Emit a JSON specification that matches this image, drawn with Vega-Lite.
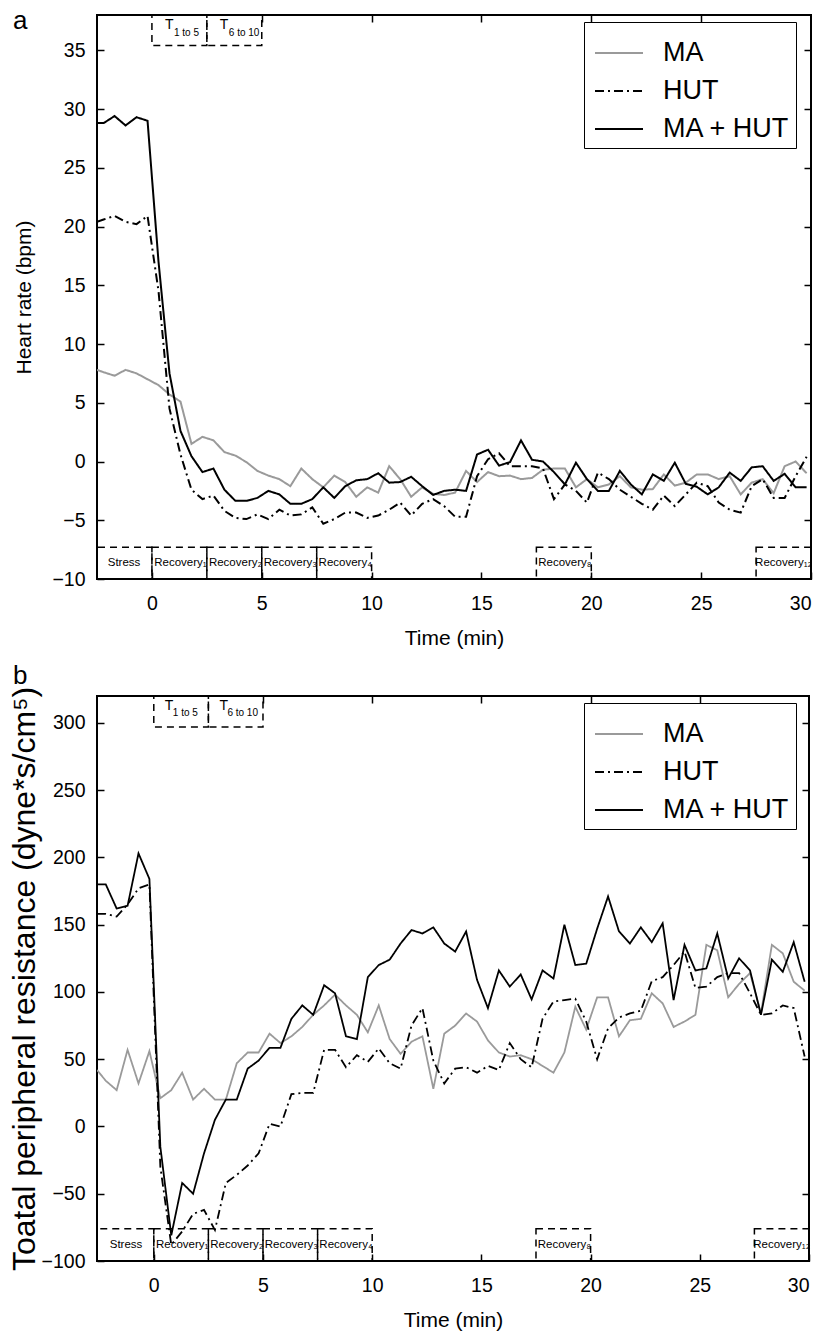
{
  "$schema": "https://vega.github.io/schema/vega-lite/v6.json",
  "background": "white",
  "padding": {"left": 7, "top": 7, "right": 5, "bottom": 2},
  "bounds": "flush",
  "spacing": 117,
  "config": {
    "font": "Liberation Sans",
    "view": {"stroke": "black", "strokeWidth": 2},
    "axis": {"grid": false, "domain": false, "tickColor": "black", "tickWidth": 1.5, "tickSize": -7, "labelColor": "black", "labelFontSize": 19.5, "titleFontSize": 21, "titleFontWeight": "normal", "titleColor": "black"},
    "axisX": {"labelPadding": 22, "titlePadding": 15},
    "axisY": {"labelPadding": 19, "titlePadding": 10},
    "legend": {"strokeColor": "black", "fillColor": "white", "labelColor": "black"},
    "title": {"fontSize": 26, "fontWeight": "normal", "anchor": "start", "frame": "group", "color": "black"}
  },
  "datasets": {
    "hr": [
      {"t": -2.5, "MA": 7.8, "HUT": 20.4, "MA + HUT": 28.8},
      {"t": -2.2, "MA": 7.6, "HUT": 20.6, "MA + HUT": 28.8},
      {"t": -1.7, "MA": 7.3, "HUT": 20.9, "MA + HUT": 29.4},
      {"t": -1.2, "MA": 7.8, "HUT": 20.4, "MA + HUT": 28.6},
      {"t": -0.7, "MA": 7.5, "HUT": 20.2, "MA + HUT": 29.3},
      {"t": -0.2, "MA": 7.0, "HUT": 20.9, "MA + HUT": 29.0},
      {"t": 0.3, "MA": 6.5, "HUT": 14.5, "MA + HUT": 17.0},
      {"t": 0.8, "MA": 5.7, "HUT": 4.5, "MA + HUT": 7.5},
      {"t": 1.3, "MA": 5.1, "HUT": 0.6, "MA + HUT": 2.6},
      {"t": 1.8, "MA": 1.5, "HUT": -2.4, "MA + HUT": 0.45},
      {"t": 2.3, "MA": 2.1, "HUT": -3.2, "MA + HUT": -0.9},
      {"t": 2.8, "MA": 1.8, "HUT": -2.9, "MA + HUT": -0.6},
      {"t": 3.3, "MA": 0.8, "HUT": -4.2, "MA + HUT": -2.4},
      {"t": 3.8, "MA": 0.5, "HUT": -4.8, "MA + HUT": -3.35},
      {"t": 4.3, "MA": -0.05, "HUT": -4.9, "MA + HUT": -3.35},
      {"t": 4.8, "MA": -0.8, "HUT": -4.5, "MA + HUT": -3.1},
      {"t": 5.3, "MA": -1.2, "HUT": -4.9, "MA + HUT": -2.5},
      {"t": 5.8, "MA": -1.5, "HUT": -4.1, "MA + HUT": -2.8},
      {"t": 6.3, "MA": -2.1, "HUT": -4.6, "MA + HUT": -3.6},
      {"t": 6.8, "MA": -0.6, "HUT": -4.5, "MA + HUT": -3.6},
      {"t": 7.3, "MA": -1.5, "HUT": -3.9, "MA + HUT": -3.2},
      {"t": 7.8, "MA": -2.2, "HUT": -5.3, "MA + HUT": -2.2},
      {"t": 8.3, "MA": -1.2, "HUT": -4.9, "MA + HUT": -3.1},
      {"t": 8.8, "MA": -1.75, "HUT": -4.35, "MA + HUT": -2.1},
      {"t": 9.3, "MA": -3.0, "HUT": -4.35, "MA + HUT": -1.6},
      {"t": 9.8, "MA": -2.2, "HUT": -4.8, "MA + HUT": -1.5},
      {"t": 10.3, "MA": -2.65, "HUT": -4.6, "MA + HUT": -1.0},
      {"t": 10.8, "MA": -0.4, "HUT": -4.1, "MA + HUT": -1.8},
      {"t": 11.3, "MA": -1.5, "HUT": -3.5, "MA + HUT": -1.75},
      {"t": 11.8, "MA": -3.0, "HUT": -4.6, "MA + HUT": -1.3},
      {"t": 12.3, "MA": -2.2, "HUT": -3.6, "MA + HUT": -2.1},
      {"t": 12.8, "MA": -2.75, "HUT": -3.2, "MA + HUT": -2.85},
      {"t": 13.3, "MA": -2.85, "HUT": -3.8, "MA + HUT": -2.5},
      {"t": 13.8, "MA": -2.65, "HUT": -4.7, "MA + HUT": -2.4},
      {"t": 14.3, "MA": -0.8, "HUT": -4.7, "MA + HUT": -2.5},
      {"t": 14.8, "MA": -1.75, "HUT": -1.25, "MA + HUT": 0.6},
      {"t": 15.3, "MA": -0.9, "HUT": 0.2, "MA + HUT": 1.0},
      {"t": 15.8, "MA": -1.25, "HUT": 0.7, "MA + HUT": -0.35},
      {"t": 16.3, "MA": -1.2, "HUT": -0.4, "MA + HUT": -0.05},
      {"t": 16.8, "MA": -1.5, "HUT": -0.4, "MA + HUT": 1.8},
      {"t": 17.3, "MA": -1.4, "HUT": -0.4, "MA + HUT": 0.15},
      {"t": 17.8, "MA": -0.7, "HUT": -0.6, "MA + HUT": 0.0},
      {"t": 18.3, "MA": -0.6, "HUT": -3.2, "MA + HUT": -0.9},
      {"t": 18.8, "MA": -0.6, "HUT": -1.95, "MA + HUT": -1.95},
      {"t": 19.3, "MA": -2.2, "HUT": -2.5, "MA + HUT": -0.1},
      {"t": 19.8, "MA": -1.5, "HUT": -3.5, "MA + HUT": -1.5},
      {"t": 20.3, "MA": -2.2, "HUT": -0.95, "MA + HUT": -2.5},
      {"t": 20.8, "MA": -1.95, "HUT": -1.5, "MA + HUT": -2.5},
      {"t": 21.3, "MA": -1.25, "HUT": -2.4, "MA + HUT": -0.8},
      {"t": 21.8, "MA": -2.2, "HUT": -3.0, "MA + HUT": -1.95},
      {"t": 22.3, "MA": -2.4, "HUT": -3.6, "MA + HUT": -2.8},
      {"t": 22.8, "MA": -2.35, "HUT": -4.1, "MA + HUT": -1.1},
      {"t": 23.3, "MA": -1.1, "HUT": -2.9, "MA + HUT": -1.65},
      {"t": 23.8, "MA": -2.05, "HUT": -3.8, "MA + HUT": -0.1},
      {"t": 24.3, "MA": -1.8, "HUT": -2.8, "MA + HUT": -1.9},
      {"t": 24.8, "MA": -1.1, "HUT": -1.8, "MA + HUT": -2.15},
      {"t": 25.3, "MA": -1.1, "HUT": -2.1, "MA + HUT": -2.8},
      {"t": 25.8, "MA": -1.5, "HUT": -3.5, "MA + HUT": -2.2},
      {"t": 26.3, "MA": -1.25, "HUT": -4.1, "MA + HUT": -0.95},
      {"t": 26.8, "MA": -2.8, "HUT": -4.35, "MA + HUT": -1.65},
      {"t": 27.3, "MA": -1.8, "HUT": -2.1, "MA + HUT": -0.5},
      {"t": 27.8, "MA": -1.5, "HUT": -1.5, "MA + HUT": -0.4},
      {"t": 28.3, "MA": -2.7, "HUT": -3.1, "MA + HUT": -1.65},
      {"t": 28.8, "MA": -0.4, "HUT": -3.1, "MA + HUT": -1.05},
      {"t": 29.3, "MA": 0.0, "HUT": -1.25, "MA + HUT": -2.2},
      {"t": 29.8, "MA": -1.0, "HUT": 0.4, "MA + HUT": -2.2}
    ],
    "tpr": [
      {"t": -2.6, "MA": 42, "HUT": 158, "MA + HUT": 180},
      {"t": -2.2, "MA": 34, "HUT": 158, "MA + HUT": 180},
      {"t": -1.7, "MA": 27, "HUT": 156, "MA + HUT": 162},
      {"t": -1.2, "MA": 57, "HUT": 165, "MA + HUT": 164},
      {"t": -0.7, "MA": 32, "HUT": 177, "MA + HUT": 203},
      {"t": -0.2, "MA": 56, "HUT": 180, "MA + HUT": 184},
      {"t": 0.3, "MA": 21, "HUT": -30, "MA + HUT": -15},
      {"t": 0.8, "MA": 27, "HUT": -88, "MA + HUT": -81},
      {"t": 1.3, "MA": 40, "HUT": -78, "MA + HUT": -42},
      {"t": 1.8, "MA": 20, "HUT": -65, "MA + HUT": -50},
      {"t": 2.3, "MA": 28, "HUT": -62, "MA + HUT": -20},
      {"t": 2.8, "MA": 20, "HUT": -77, "MA + HUT": 5},
      {"t": 3.3, "MA": 20, "HUT": -42, "MA + HUT": 20},
      {"t": 3.8, "MA": 47, "HUT": -36, "MA + HUT": 20},
      {"t": 4.3, "MA": 55, "HUT": -29, "MA + HUT": 43},
      {"t": 4.8, "MA": 55, "HUT": -20, "MA + HUT": 49},
      {"t": 5.3, "MA": 69, "HUT": 2, "MA + HUT": 58.5},
      {"t": 5.8, "MA": 62, "HUT": 0, "MA + HUT": 58.5},
      {"t": 6.3, "MA": 67, "HUT": 24, "MA + HUT": 80},
      {"t": 6.8, "MA": 74, "HUT": 25, "MA + HUT": 90},
      {"t": 7.3, "MA": 83, "HUT": 25, "MA + HUT": 83},
      {"t": 7.8, "MA": 90, "HUT": 57, "MA + HUT": 105},
      {"t": 8.3, "MA": 98, "HUT": 57, "MA + HUT": 99},
      {"t": 8.8, "MA": 90, "HUT": 44, "MA + HUT": 67},
      {"t": 9.3, "MA": 83, "HUT": 53, "MA + HUT": 65},
      {"t": 9.8, "MA": 70, "HUT": 48, "MA + HUT": 111},
      {"t": 10.3, "MA": 90, "HUT": 58, "MA + HUT": 120},
      {"t": 10.8, "MA": 65, "HUT": 47, "MA + HUT": 124},
      {"t": 11.3, "MA": 54, "HUT": 43, "MA + HUT": 136},
      {"t": 11.8, "MA": 63, "HUT": 75, "MA + HUT": 146},
      {"t": 12.3, "MA": 67, "HUT": 88, "MA + HUT": 143.5},
      {"t": 12.8, "MA": 28, "HUT": 49, "MA + HUT": 148},
      {"t": 13.3, "MA": 69, "HUT": 32, "MA + HUT": 136},
      {"t": 13.8, "MA": 75, "HUT": 43, "MA + HUT": 130},
      {"t": 14.3, "MA": 84, "HUT": 44, "MA + HUT": 145},
      {"t": 14.8, "MA": 78, "HUT": 40, "MA + HUT": 109},
      {"t": 15.3, "MA": 64, "HUT": 45, "MA + HUT": 88},
      {"t": 15.8, "MA": 55, "HUT": 42, "MA + HUT": 116},
      {"t": 16.3, "MA": 52, "HUT": 62, "MA + HUT": 104},
      {"t": 16.8, "MA": 53, "HUT": 50, "MA + HUT": 113},
      {"t": 17.3, "MA": 50, "HUT": 44, "MA + HUT": 94.5},
      {"t": 17.8, "MA": 45, "HUT": 80, "MA + HUT": 116},
      {"t": 18.3, "MA": 40, "HUT": 93, "MA + HUT": 110},
      {"t": 18.8, "MA": 55, "HUT": 94, "MA + HUT": 150},
      {"t": 19.3, "MA": 89, "HUT": 95, "MA + HUT": 120},
      {"t": 19.8, "MA": 72, "HUT": 78, "MA + HUT": 121},
      {"t": 20.3, "MA": 96, "HUT": 50, "MA + HUT": 147},
      {"t": 20.8, "MA": 96, "HUT": 73, "MA + HUT": 171},
      {"t": 21.3, "MA": 67, "HUT": 81, "MA + HUT": 145},
      {"t": 21.8, "MA": 79, "HUT": 84, "MA + HUT": 136},
      {"t": 22.3, "MA": 80, "HUT": 86, "MA + HUT": 148},
      {"t": 22.8, "MA": 99, "HUT": 108, "MA + HUT": 137},
      {"t": 23.3, "MA": 91.5, "HUT": 111, "MA + HUT": 151},
      {"t": 23.8, "MA": 74, "HUT": 120, "MA + HUT": 94},
      {"t": 24.3, "MA": 78, "HUT": 130, "MA + HUT": 135},
      {"t": 24.8, "MA": 83, "HUT": 103, "MA + HUT": 116},
      {"t": 25.3, "MA": 135, "HUT": 104, "MA + HUT": 117.5},
      {"t": 25.8, "MA": 131, "HUT": 111, "MA + HUT": 143.5},
      {"t": 26.3, "MA": 96, "HUT": 114, "MA + HUT": 110},
      {"t": 26.8, "MA": 106, "HUT": 114, "MA + HUT": 125},
      {"t": 27.3, "MA": 114, "HUT": 99, "MA + HUT": 116},
      {"t": 27.8, "MA": 84, "HUT": 83, "MA + HUT": 83},
      {"t": 28.3, "MA": 135, "HUT": 84, "MA + HUT": 124},
      {"t": 28.8, "MA": 128.7, "HUT": 90, "MA + HUT": 115},
      {"t": 29.3, "MA": 107.6, "HUT": 88, "MA + HUT": 137},
      {"t": 29.8, "MA": 101, "HUT": 52, "MA + HUT": 107.6}
    ],
    "periods": [
      {"label": "Stress", "x0": -3, "x1": 0, "xm": -1.27},
      {"label": "Recovery₁", "x0": 0, "x1": 2.5, "xm": 1.3},
      {"label": "Recovery₂", "x0": 2.5, "x1": 5, "xm": 3.8},
      {"label": "Recovery₃", "x0": 5, "x1": 7.5, "xm": 6.3},
      {"label": "Recovery₄", "x0": 7.5, "x1": 10, "xm": 8.8},
      {"label": "Recovery₈", "x0": 17.5, "x1": 20, "xm": 18.8},
      {"label": "Recovery₁₂", "x0": 27.5, "x1": 30, "xm": 28.75}
    ],
    "tboxes": [
      {"sub": "1 to 5", "x0": 0, "x1": 2.5},
      {"sub": "6 to 10", "x0": 2.5, "x1": 5}
    ]
  },
  "resolve": {"scale": {"x": "independent", "y": "independent", "color": "independent", "strokeDash": "independent"}},
  "vconcat": [
    {
      "width": 714,
      "height": 564,
      "title": {"text": "a", "dx": -84, "offset": -12, "dy": 29, "baseline": "alphabetic"},
      "resolve": {"axis": {"x": "independent", "y": "independent"}},
      "layer": [
        {
          "data": {"name": "periods"},
          "mark": {"type": "rect", "fillOpacity": 0, "stroke": "black", "strokeDash": [7, 5], "strokeWidth": 1.5, "clip": true},
          "encoding": {
            "x": {"field": "x0", "type": "quantitative", "axis": null},
            "x2": {"field": "x1"},
            "y": {"datum": -10, "type": "quantitative", "axis": null},
            "y2": {"datum": -7.3}
          }
        },
        {
          "data": {"name": "periods"},
          "mark": {"type": "text", "fontSize": 11.5, "baseline": "middle", "align": "center", "color": "black"},
          "encoding": {
            "x": {"field": "xm", "type": "quantitative", "axis": null},
            "y": {"datum": -8.65, "type": "quantitative", "axis": null},
            "text": {"field": "label"}
          }
        },
        {
          "data": {"name": "tboxes"},
          "mark": {"type": "rect", "fillOpacity": 0, "stroke": "black", "strokeDash": [7, 5], "strokeWidth": 1.5, "clip": true},
          "encoding": {
            "x": {"field": "x0", "type": "quantitative", "axis": null},
            "x2": {"field": "x1"},
            "y": {"datum": 35.4, "type": "quantitative", "axis": null},
            "y2": {"datum": 38}
          }
        },
        {
          "data": {"name": "tboxes"},
          "mark": {"type": "text", "fontSize": 14, "baseline": "alphabetic", "align": "left", "dx": 13, "dy": 14, "color": "black", "text": "T"},
          "encoding": {
            "x": {"field": "x0", "type": "quantitative", "axis": null},
            "y": {"datum": 38, "type": "quantitative", "axis": null}
          }
        },
        {
          "data": {"name": "tboxes"},
          "mark": {"type": "text", "fontSize": 10, "baseline": "alphabetic", "align": "left", "dx": 22, "dy": 21, "color": "black"},
          "encoding": {
            "x": {"field": "x0", "type": "quantitative", "axis": null},
            "y": {"datum": 38, "type": "quantitative", "axis": null},
            "text": {"field": "sub"}
          }
        },
        {
          "mark": {"type": "rule", "color": "#222222", "strokeDash": [9, 6], "strokeWidth": 1.2},
          "encoding": {
            "y": {"datum": 0, "type": "quantitative", "axis": {"orient": "right", "labels": false, "title": null, "values": [-5, 5, 10, 15, 20, 25, 30, 35]}}
          }
        },
        {
          "mark": {"type": "rule", "color": "black", "strokeWidth": 2},
          "encoding": {
            "x": {"datum": 0, "type": "quantitative", "axis": {"orient": "top", "labels": false, "title": null, "values": [5, 10, 15, 20, 25]}}
          }
        },
        {
          "data": {"name": "hr"},
          "transform": [{"fold": ["MA", "HUT", "MA + HUT"], "as": ["series", "value"]}],
          "mark": {"type": "line", "strokeWidth": 2, "clip": true},
          "encoding": {
            "x": {"field": "t", "type": "quantitative", "scale": {"domain": [-2.5, 30], "nice": false, "zero": false}, "axis": {"orient": "bottom", "values": [0, 5, 10, 15, 20, 25, 30], "title": "Time (min)"}},
            "y": {"field": "value", "type": "quantitative", "scale": {"domain": [-10, 38], "nice": false, "zero": false}, "axis": {"orient": "left", "values": [-10, -5, 0, 5, 10, 15, 20, 25, 30, 35], "title": "Heart rate (bpm)", "titlePadding": 17}},
            "color": {"field": "series", "type": "nominal", "scale": {"domain": ["MA", "HUT", "MA + HUT"], "range": ["#9a9a9a", "#000000", "#000000"]},
              "legend": {"title": null, "orient": "none", "legendX": 487, "legendY": 7, "symbolType": "stroke", "symbolSize": 2304, "symbolStrokeWidth": 2, "symbolOffset": 4, "labelFontSize": 27, "labelOffset": 19, "padding": 6, "rowPadding": 0}},
            "strokeDash": {"field": "series", "type": "nominal", "scale": {"domain": ["MA", "HUT", "MA + HUT"], "range": [[1, 0], [9, 4, 2, 4], [1, 0]]},
              "legend": {"title": null, "orient": "none", "legendX": 487, "legendY": 7, "symbolType": "stroke", "symbolSize": 2304, "symbolStrokeWidth": 2, "symbolOffset": 4, "labelFontSize": 27, "labelOffset": 19, "padding": 6, "rowPadding": 0}}
          }
        }
      ]
    },
    {
      "width": 712,
      "height": 565,
      "title": {"text": "b", "dx": -84, "offset": 2, "dy": 26, "baseline": "alphabetic"},
      "resolve": {"axis": {"x": "independent", "y": "independent"}},
      "layer": [
        {
          "data": {"name": "periods"},
          "mark": {"type": "rect", "fillOpacity": 0, "stroke": "black", "strokeDash": [7, 5], "strokeWidth": 1.5, "clip": true},
          "encoding": {
            "x": {"field": "x0", "type": "quantitative", "axis": null},
            "x2": {"field": "x1"},
            "y": {"datum": -100, "type": "quantitative", "axis": null},
            "y2": {"datum": -76}
          }
        },
        {
          "data": {"name": "periods"},
          "mark": {"type": "text", "fontSize": 11.5, "baseline": "middle", "align": "center", "color": "black"},
          "encoding": {
            "x": {"field": "xm", "type": "quantitative", "axis": null},
            "y": {"datum": -88, "type": "quantitative", "axis": null},
            "text": {"field": "label"}
          }
        },
        {
          "data": {"name": "tboxes"},
          "mark": {"type": "rect", "fillOpacity": 0, "stroke": "black", "strokeDash": [7, 5], "strokeWidth": 1.5, "clip": true},
          "encoding": {
            "x": {"field": "x0", "type": "quantitative", "axis": null},
            "x2": {"field": "x1"},
            "y": {"datum": 297, "type": "quantitative", "axis": null},
            "y2": {"datum": 320}
          }
        },
        {
          "data": {"name": "tboxes"},
          "mark": {"type": "text", "fontSize": 14, "baseline": "alphabetic", "align": "left", "dx": 11, "dy": 14, "color": "black", "text": "T"},
          "encoding": {
            "x": {"field": "x0", "type": "quantitative", "axis": null},
            "y": {"datum": 320, "type": "quantitative", "axis": null}
          }
        },
        {
          "data": {"name": "tboxes"},
          "mark": {"type": "text", "fontSize": 10, "baseline": "alphabetic", "align": "left", "dx": 19, "dy": 20, "color": "black"},
          "encoding": {
            "x": {"field": "x0", "type": "quantitative", "axis": null},
            "y": {"datum": 320, "type": "quantitative", "axis": null},
            "text": {"field": "sub"}
          }
        },
        {
          "mark": {"type": "rule", "color": "#222222", "strokeDash": [9, 6], "strokeWidth": 1.2},
          "encoding": {
            "y": {"datum": 0, "type": "quantitative", "axis": {"orient": "right", "labels": false, "title": null, "values": [-50, 50, 100, 150, 200, 250, 300]}}
          }
        },
        {
          "mark": {"type": "rule", "color": "black", "strokeWidth": 1.2},
          "encoding": {
            "x": {"datum": 0, "type": "quantitative", "axis": {"orient": "top", "labels": false, "title": null, "values": [5, 10, 15, 20, 25]}}
          }
        },
        {
          "data": {"name": "tpr"},
          "transform": [{"fold": ["MA", "HUT", "MA + HUT"], "as": ["series", "value"]}],
          "mark": {"type": "line", "strokeWidth": 1.8, "clip": true},
          "encoding": {
            "x": {"field": "t", "type": "quantitative", "scale": {"domain": [-2.6, 30], "nice": false, "zero": false}, "axis": {"orient": "bottom", "values": [0, 5, 10, 15, 20, 25, 30], "title": "Time (min)"}},
            "y": {"field": "value", "type": "quantitative", "scale": {"domain": [-100, 320], "nice": false, "zero": false}, "axis": {"orient": "left", "values": [-100, -50, 0, 50, 100, 150, 200, 250, 300], "title": "Toatal peripheral resistance (dyne*s/cm⁵)", "titleFontSize": 32, "titlePadding": 0}},
            "color": {"field": "series", "type": "nominal", "scale": {"domain": ["MA", "HUT", "MA + HUT"], "range": ["#9a9a9a", "#000000", "#000000"]},
              "legend": {"title": null, "orient": "none", "legendX": 487, "legendY": 7, "symbolType": "stroke", "symbolSize": 2304, "symbolStrokeWidth": 2, "symbolOffset": 4, "labelFontSize": 27, "labelOffset": 19, "padding": 6, "rowPadding": 0}},
            "strokeDash": {"field": "series", "type": "nominal", "scale": {"domain": ["MA", "HUT", "MA + HUT"], "range": [[1, 0], [9, 4, 2, 4], [1, 0]]},
              "legend": {"title": null, "orient": "none", "legendX": 487, "legendY": 7, "symbolType": "stroke", "symbolSize": 2304, "symbolStrokeWidth": 2, "symbolOffset": 4, "labelFontSize": 27, "labelOffset": 19, "padding": 6, "rowPadding": 0}}
          }
        }
      ]
    }
  ]
}
